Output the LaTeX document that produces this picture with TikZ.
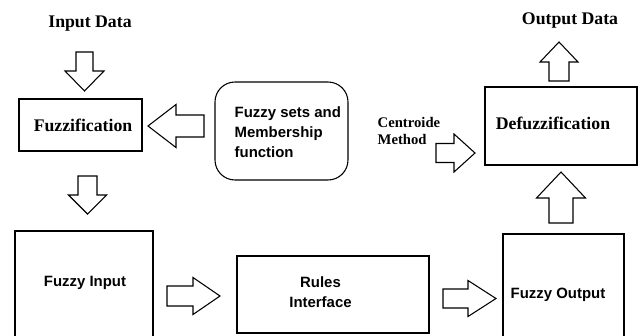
\documentclass[tikz,border=0pt]{standalone}
\usepackage{fontspec}
\setmainfont{Liberation Serif}
\newfontfamily\boxfont{Liberation Sans}
\begin{document}
\begin{tikzpicture}[x=0.75pt,y=-0.75pt,
  frame/.style={draw=black,line width=0.8pt,fill=white},
  serifhead/.style={font=\fontsize{13.3}{15}\selectfont\bfseries},
  seriflabel/.style={font=\fontsize{11}{12.5}\selectfont\bfseries,align=left},
  sanslabel/.style={font=\boxfont\fontsize{11.2}{15}\selectfont\bfseries,align=left},
  blk/.style={draw=black,line width=0.8pt,fill=white,line join=miter}]
\useasboundingbox (0,0) rectangle (641,335);
\clip (0,0) rectangle (641,335);

% hollow block arrow: origin, direction, length, shaft half-width, head half-width, head length
\newcommand\blockarrow[6]{%
  \draw[blk,shift={#1},rotate=#2]
    (0,-#4) -- (#3-#6,-#4) -- (#3-#6,-#5) -- (#3,0) -- (#3-#6,#5)
    -- (#3-#6,#4) -- (0,#4) -- cycle;}

% boxes
\draw[frame] (19,99) rectangle (142,151);
\node[serifhead] (fuzz) at (83,125) {Fuzzification};

\draw[frame,rounded corners=15] (215,82) rectangle (348,180);
\node[sanslabel,anchor=west] (sets) at (230,132) {Fuzzy sets and\\Membership\\function};

\draw[frame] (485,87) rectangle (637,165);
\node[serifhead] (defuzz) at (553,123) {Defuzzification};

\draw[frame] (15,231) rectangle (153,345);
\node[sanslabel] (fin) at (85,283) {Fuzzy Input};

\draw[frame] (237,256) rectangle (429,333);
\node[sanslabel,align=center] (rules) at (320.5,292.5) {Rules\\Interface};

\draw[frame] (503,234) rectangle (624,345);
\node[sanslabel] (fout) at (558,295) {Fuzzy Output};

% free labels
\node[serifhead] (indata) at (90,24) {Input Data};
\node[serifhead] (outdata) at (570,21) {Output Data};
\node[seriflabel,anchor=west] (centroid) at (373,131) {Centroide\\Method};

% block arrows
\blockarrow{(84.5,52)}{-90}{39}{8.5}{19.5}{20}
\blockarrow{(204,126)}{180}{56}{11}{21.5}{28}
\blockarrow{(87.5,176)}{-90}{38}{9.5}{19}{19}
\blockarrow{(167,296)}{0}{53}{10}{18.5}{27}
\blockarrow{(443,298.5)}{0}{53}{9.5}{18}{28}
\blockarrow{(561,223)}{90}{51}{12}{24.5}{26}
\blockarrow{(436,153)}{0}{39}{9.5}{19}{21}
\blockarrow{(559,81)}{90}{39}{10}{19}{20}
\end{tikzpicture}
\end{document}
